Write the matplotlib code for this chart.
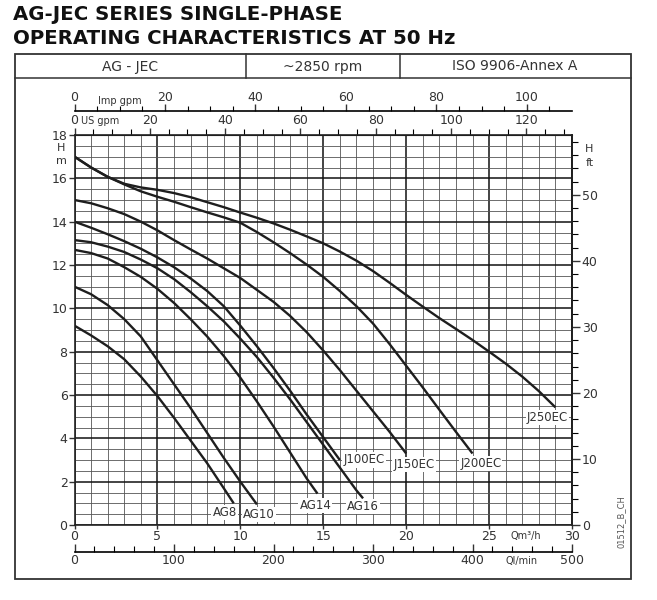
import numpy as np
import matplotlib.pyplot as plt
from matplotlib.patches import Rectangle
from matplotlib.lines import Line2D
from matplotlib.ticker import MultipleLocator

# flow Q (m3/h) and head H (m)
q_ag8 = [0, 1, 2, 3, 4, 5, 6, 7, 8, 9, 9.6]
h_ag8 = [9.2, 8.75, 8.25, 7.65, 6.85, 5.95, 4.95, 3.9, 2.85, 1.7, 1.0]

q_ag10 = [0, 1, 2, 3, 4, 5, 6, 7, 8, 9, 10, 11]
h_ag10 = [11.0, 10.65, 10.15, 9.5, 8.7, 7.6, 6.5, 5.4, 4.25, 3.1, 2.0, 0.95]

q_ag14 = [0, 1, 2, 3, 4, 5, 6, 7, 8, 9, 10, 11, 12, 13, 14, 14.65]
h_ag14 = [12.7, 12.55, 12.3, 11.9, 11.45, 10.9, 10.25, 9.5, 8.7, 7.8, 6.8,
          5.7, 4.55, 3.35, 2.15, 1.45]

q_ag16 = [0, 1, 2, 3, 4, 5, 6, 7, 8, 9, 10, 11, 12, 13, 14, 15, 16, 17, 17.4]
h_ag16 = [13.15, 13.05, 12.85, 12.6, 12.25, 11.85, 11.35, 10.75, 10.1, 9.4,
          8.6, 7.75, 6.8, 5.8, 4.75, 3.7, 2.65, 1.6, 1.23]

q_j100 = [0, 1, 2, 3, 4, 5, 6, 7, 8, 9, 10, 11, 12, 13, 14, 15, 16]
h_j100 = [14.0, 13.72, 13.42, 13.1, 12.75, 12.35, 11.9, 11.38, 10.8, 10.1,
          9.2, 8.25, 7.25, 6.2, 5.1, 4.05, 3.0]

q_j150 = [0, 1, 2, 3, 4, 5, 6, 7, 8, 9, 10, 11, 12, 13, 14, 15, 16, 17, 18,
          19, 20]
h_j150 = [15.0, 14.85, 14.62, 14.35, 14.0, 13.6, 13.15, 12.72, 12.3, 11.85,
          11.4, 10.85, 10.3, 9.65, 8.9, 8.05, 7.15, 6.2, 5.25, 4.3, 3.3]

q_j200 = [0, 1, 2, 3, 4, 5, 6, 7, 8, 9, 10, 11, 12, 13, 14, 15, 16, 17, 18,
          19, 20, 21, 22, 23, 24]
h_j200 = [17.0, 16.5, 16.07, 15.72, 15.4, 15.15, 14.92, 14.67, 14.43, 14.2,
          13.95, 13.52, 13.05, 12.55, 12.02, 11.45, 10.8, 10.1, 9.3, 8.35,
          7.35, 6.35, 5.32, 4.3, 3.3]

q_j250 = [0, 1, 2, 3, 4, 5, 6, 7, 8, 9, 10, 11, 12, 13, 14, 15, 16, 17, 18,
          19, 20, 21, 22, 23, 24, 25, 26, 27, 28, 29]
h_j250 = [17.0, 16.5, 16.07, 15.75, 15.58, 15.47, 15.32, 15.13, 14.9, 14.67,
          14.42, 14.18, 13.92, 13.63, 13.32, 13.0, 12.62, 12.2, 11.72, 11.18,
          10.62, 10.08, 9.55, 9.05, 8.54, 8.0, 7.45, 6.85, 6.18, 5.43]

curves = [
    ("AG8", q_ag8, h_ag8, (9.05, 0.57)),
    ("AG10", q_ag10, h_ag10, (11.1, 0.5)),
    ("AG14", q_ag14, h_ag14, (14.53, 0.88)),
    ("AG16", q_ag16, h_ag16, (17.41, 0.85)),
    ("J100EC", q_j100, h_j100, (17.45, 3.0)),
    ("J150EC", q_j150, h_j150, (20.47, 2.81)),
    ("J200EC", q_j200, h_j200, (24.5, 2.85)),
    ("J250EC", q_j250, h_j250, (28.53, 4.97)),
]

header = ["AG - JEC", "~2850 rpm", "ISO 9906-Annex A"]

W, H = 657, 600


def fx(px):
    return px / W


def fy(py):
    return 1 - py / H


fig = plt.figure(figsize=(W / 100, H / 100), dpi=100)
ink = "#1e1e1e"
grey = "#333"

# title
fig.text(fx(13), fy(15), "AG-JEC SERIES SINGLE-PHASE", fontsize=14.2,
         fontweight="bold", va="center", ha="left", color="#111")
fig.text(fx(13), fy(38), "OPERATING CHARACTERISTICS AT 50 Hz", fontsize=14.2,
         fontweight="bold", va="center", ha="left", color="#111")

# frame and header row
fig.add_artist(Rectangle((fx(14.5), fy(579)), fx(630.5) - fx(14.5),
                         fy(54) - fy(579), transform=fig.transFigure,
                         fill=False, lw=1.3, ec=grey))
fig.add_artist(Line2D([fx(14.5), fx(630.5)], [fy(78), fy(78)],
                      transform=fig.transFigure, lw=1.1, color=grey))
for xd in [246, 400]:
    fig.add_artist(Line2D([fx(xd), fx(xd)], [fy(54), fy(78)],
                          transform=fig.transFigure, lw=1.1, color=grey))
for txt, xc in zip(header, [130, 323, 515]):
    fig.text(fx(xc), fy(66.5), txt, fontsize=10, ha="center", va="center",
             color=grey)

# main chart
ax = fig.add_axes([fx(74.5), fy(525), fx(572) - fx(74.5), fy(135) - fy(525)])
ax.set_xlim(0, 30)
ax.set_ylim(0, 18)
ax.set_xticks(np.arange(0, 31, 5))
ax.set_yticks(np.arange(0, 19, 2))
ax.xaxis.set_minor_locator(MultipleLocator(1))
ax.yaxis.set_minor_locator(MultipleLocator(0.5))
ax.grid(which="minor", color="#555", lw=0.6)
ax.grid(which="major", color="#111", lw=1.1)
ax.set_axisbelow(True)
ax.tick_params(which="minor", length=0)
ax.tick_params(axis="y", which="major", direction="out", length=4, width=1,
               labelsize=9, colors=grey, pad=1)
ax.tick_params(axis="x", which="major", direction="out", length=3, width=1,
               labelsize=9, colors=grey, pad=0.5)
for s in ax.spines.values():
    s.set_linewidth(1.2)
    s.set_color("#222")

for name, q, h, (lx, ly) in curves:
    ax.plot(q, h, color=ink, lw=1.7, solid_capstyle="butt", zorder=3)
    ax.text(lx, ly, name, fontsize=8.5, ha="center", va="center",
            color=grey, zorder=4,
            bbox=dict(facecolor="white", edgecolor="none", pad=0.8))

# right axis in feet
ft = ax.secondary_yaxis("right", functions=(lambda m: m / 0.3048,
                                            lambda f: f * 0.3048))
ft.set_yticks(np.arange(0, 51, 10))
ft.yaxis.set_minor_locator(MultipleLocator(2))
ft.tick_params(which="major", length=6, width=1, labelsize=9, colors=grey,
               pad=1)
ft.tick_params(which="minor", length=4, width=0.8)
ft.spines["right"].set_linewidth(1.2)

# top axis US gpm
usg = ax.secondary_xaxis("top", functions=(lambda q: q * 4.4029,
                                           lambda g: g / 4.4029))
usg.set_xticks(np.arange(0, 121, 20))
usg.xaxis.set_minor_locator(MultipleLocator(5))
usg.tick_params(which="major", length=5, width=1, labelsize=9, colors=grey,
                pad=0.5)
usg.tick_params(which="minor", length=4, width=0.8)

# Imp gpm scale line
imp = ax.secondary_xaxis(1.062, functions=(lambda q: q * 3.6662,
                                           lambda g: g / 3.6662))
imp.set_xticks(np.arange(0, 101, 20))
imp.xaxis.set_minor_locator(MultipleLocator(5))
imp.tick_params(which="major", direction="out", length=5, width=1,
                labelsize=9, colors=grey, pad=0)
imp.tick_params(which="minor", direction="out", length=3.5, width=0.8)
imp.spines["top"].set_linewidth(1.2)

# l/min scale line
lpm = ax.secondary_xaxis(-0.068, functions=(lambda q: q * 1000 / 60,
                                            lambda l: l * 60 / 1000))
lpm.set_xticks(np.arange(0, 501, 100))
lpm.xaxis.set_minor_locator(MultipleLocator(20))
lpm.tick_params(which="major", direction="in", length=6, width=1,
                labelsize=9, colors=grey, pad=2)
lpm.tick_params(which="minor", direction="in", length=4, width=0.8)
lpm.spines["bottom"].set_linewidth(1.2)

# unit labels
small = dict(fontsize=7, color=grey, va="center")
fig.text(fx(100), fy(121.5), "US gpm", ha="center", **small)
fig.text(fx(120), fy(101.5), "Imp gpm", ha="center", **small)
fig.text(fx(526), fy(536), "Qm³/h", ha="center", **small)
fig.text(fx(522), fy(561), "Ql/min", ha="center", **small)
fig.text(fx(61), fy(148), "H", ha="center", fontsize=8, color=grey,
         va="center")
fig.text(fx(61), fy(161), "m", ha="center", fontsize=8, color=grey,
         va="center")
fig.text(fx(589), fy(149), "H", ha="center", fontsize=8, color=grey,
         va="center")
fig.text(fx(590), fy(163), "ft", ha="center", fontsize=8, color=grey,
         va="center")
fig.text(fx(621), fy(522), "01512_B_CH", rotation=90, ha="center",
         va="center", fontsize=6, color="#555")

fig.savefig("out.png", dpi=100)
